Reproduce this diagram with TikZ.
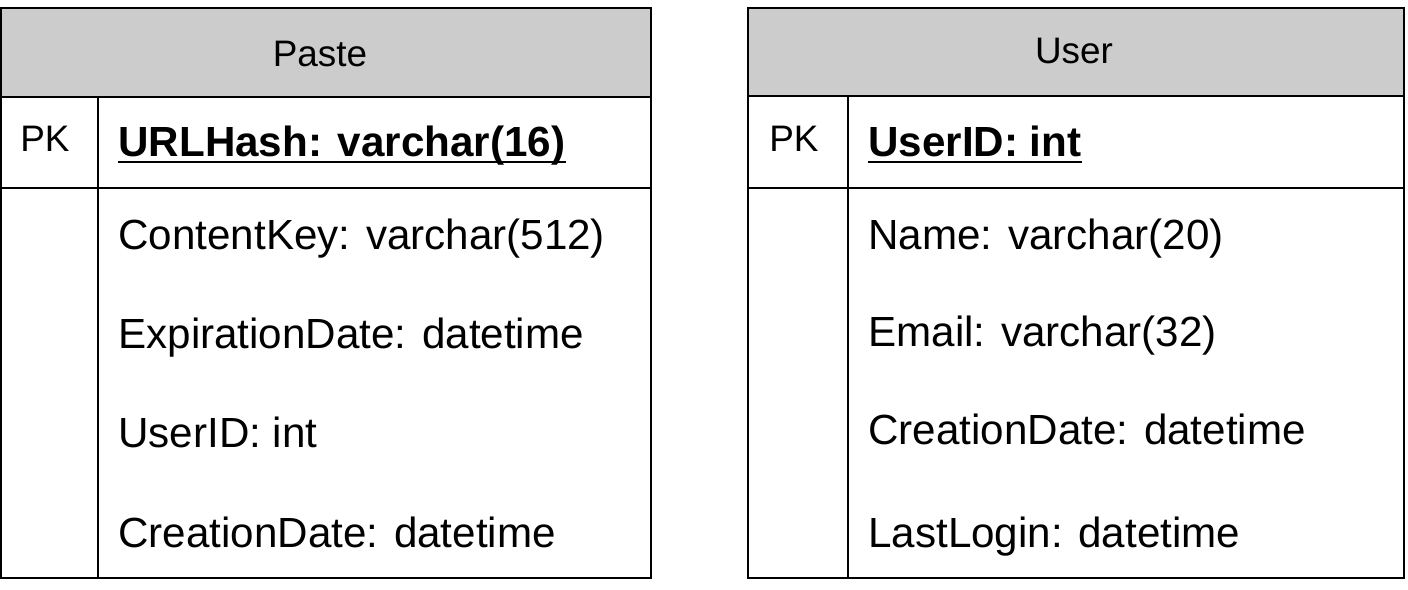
\documentclass[tikz,border=0pt]{standalone}
\usepackage{fontspec}
\setmainfont{Liberation Sans}
\usepackage{xcolor}
\usepackage{tikz}
\usetikzlibrary{positioning}

\definecolor{headgray}{HTML}{CCCCCC}

\begin{document}
\begin{tikzpicture}[x=0.02cm,y=-0.02cm,
        grid line/.style={draw,line width=1.6pt},
        head box/.style={grid line,fill=headgray},
        title/.style={inner sep=0pt,anchor=base,font=\fontsize{21}{25}\selectfont},
        key tag/.style={inner sep=0pt,anchor=base west,font=\fontsize{21}{25}\selectfont},
        field/.style={inner sep=0pt,anchor=base west,font=\fontsize{24}{28}\selectfont},
        key field/.style={field,font=\fontsize{24}{28}\selectfont\bfseries},
        key line/.style={draw,line width=1.2pt}]
        \useasboundingbox (0,0) rectangle (1408,590);

        % Paste table
        \draw[head box] (1,8) rectangle (651,97);
        \draw[grid line] (1,97) rectangle (651,578);
        \draw[grid line] (1,188) -- (651,188);
        \draw[grid line] (98,97) -- (98,578);
        \node[title] (paste) at (320,67) {Paste};
        \node[key tag] (pastepk) at (20,152) {PK};
        \node[key field] (urlhash) at (118,157) {URLHash: varchar(16)};
        \draw[key line] ([yshift=-3pt]urlhash.base west) -- ([yshift=-3pt]urlhash.base east);
        \node[field] (contentkey) at (118,250) {ContentKey: varchar(512)};
        \node[field] (expiration) at (118,349) {ExpirationDate: datetime};
        \node[field] (pasteuser) at (118,448) {UserID: int};
        \node[field] (pastecreated) at (118,547) {CreationDate: datetime};

        % User table
        \draw[head box] (748,8) rectangle (1404,96);
        \draw[grid line] (748,96) rectangle (1404,578);
        \draw[grid line] (748,188) -- (1404,188);
        \draw[grid line] (848,96) -- (848,578);
        \node[title] (user) at (1074,64) {User};
        \node[key tag] (userpk) at (769,152) {PK};
        \node[key field] (userid) at (868,157) {UserID: int};
        \draw[key line] ([yshift=-3pt]userid.base west) -- ([yshift=-3pt]userid.base east);
        \node[field] (name) at (868,250) {Name: varchar(20)};
        \node[field] (email) at (868,347) {Email: varchar(32)};
        \node[field] (usercreated) at (868,445) {CreationDate: datetime};
        \node[field] (lastlogin) at (868,547) {LastLogin: datetime};
    \end{tikzpicture}
\end{document}
